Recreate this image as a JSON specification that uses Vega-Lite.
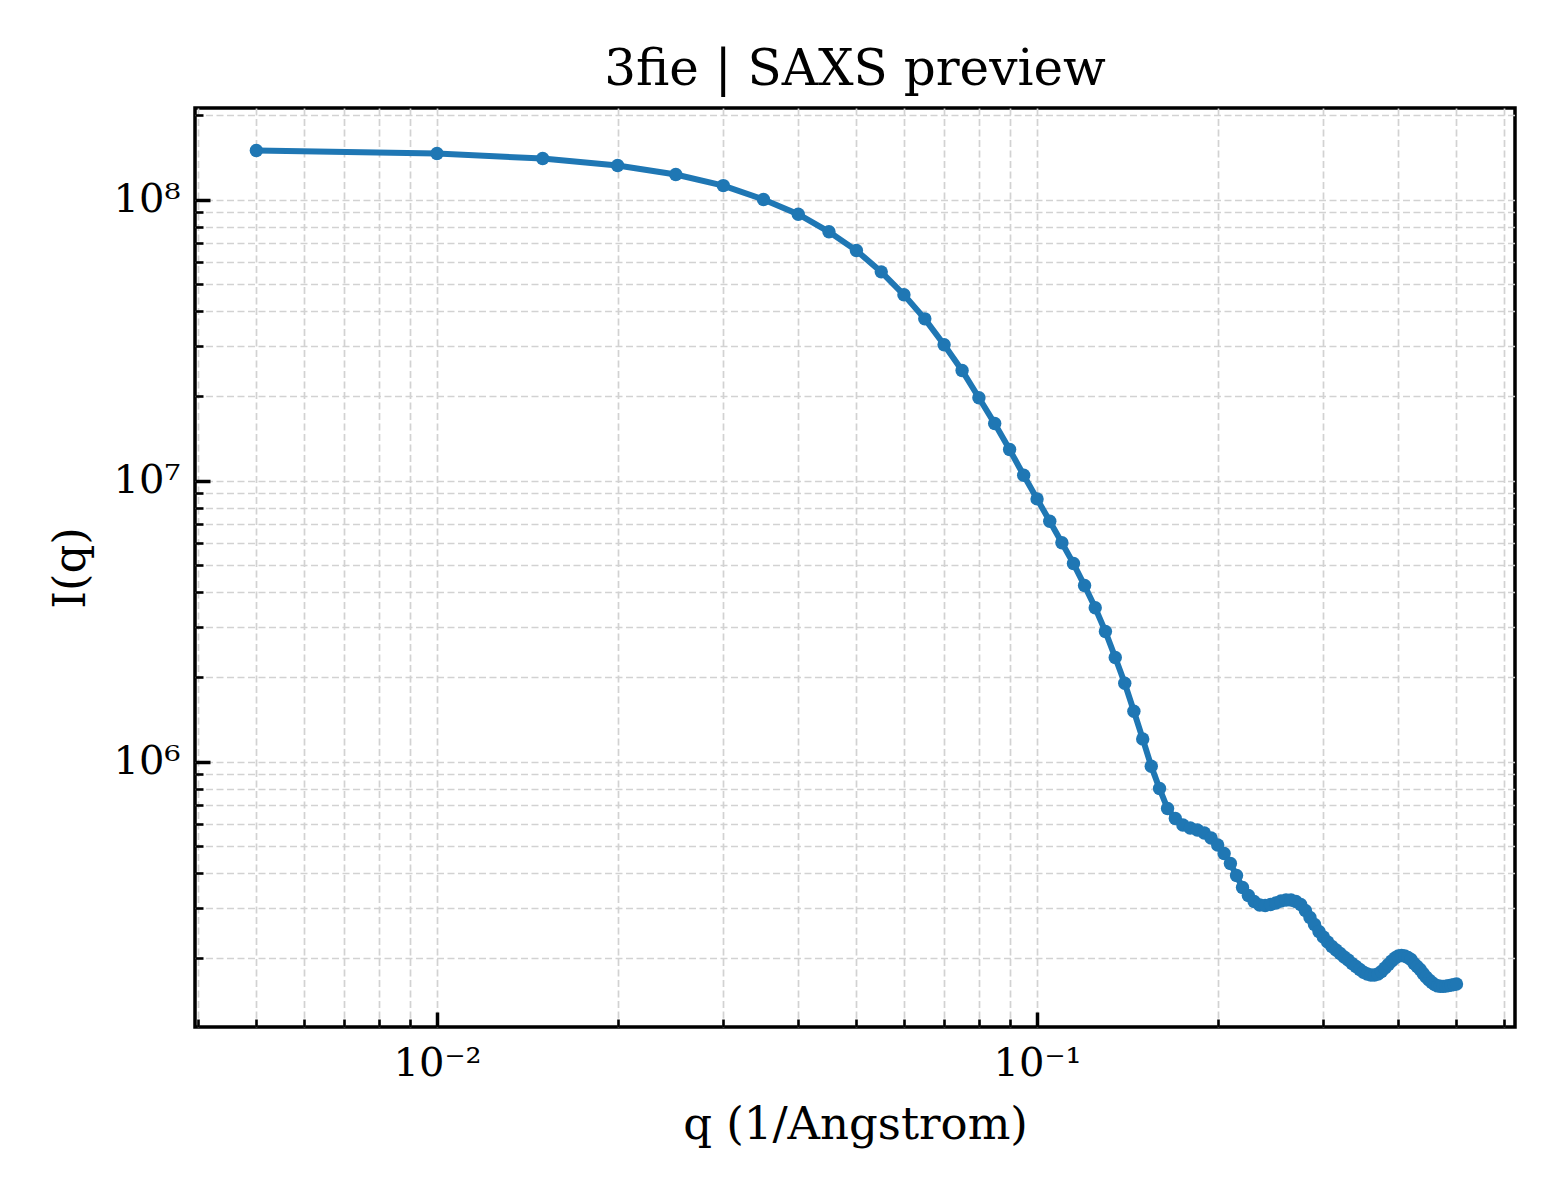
{
  "$schema": "https://vega.github.io/schema/vega-lite/v6.json",
  "autosize": {"type": "none"},
  "padding": {"left": 195, "top": 108, "right": 45, "bottom": 173},
  "width": 1320,
  "height": 919,
  "background": "white",
  "title": {
    "text": "3fie | SAXS preview",
    "font": "DejaVu Serif",
    "fontSize": 50,
    "fontWeight": "normal",
    "color": "black",
    "anchor": "middle",
    "frame": "group",
    "baseline": "alphabetic",
    "offset": 21,
    "dy": 61
  },
  "data": {
    "values": [
      {"q": 0.005, "I": 149400000},
      {"q": 0.010, "I": 145800000},
      {"q": 0.015, "I": 139900000},
      {"q": 0.020, "I": 132100000},
      {"q": 0.025, "I": 122800000},
      {"q": 0.030, "I": 112100000},
      {"q": 0.035, "I": 100000000},
      {"q": 0.040, "I": 88650000},
      {"q": 0.045, "I": 76750000},
      {"q": 0.050, "I": 65850000},
      {"q": 0.055, "I": 55280000},
      {"q": 0.060, "I": 45810000},
      {"q": 0.065, "I": 37620000},
      {"q": 0.070, "I": 30410000},
      {"q": 0.075, "I": 24640000},
      {"q": 0.080, "I": 19700000},
      {"q": 0.085, "I": 15950000},
      {"q": 0.090, "I": 12890000},
      {"q": 0.095, "I": 10440000},
      {"q": 0.100, "I": 8605000},
      {"q": 0.105, "I": 7166000},
      {"q": 0.110, "I": 6003000},
      {"q": 0.115, "I": 5066000},
      {"q": 0.120, "I": 4230000},
      {"q": 0.125, "I": 3524000},
      {"q": 0.130, "I": 2901000},
      {"q": 0.135, "I": 2345000},
      {"q": 0.140, "I": 1900000},
      {"q": 0.145, "I": 1510000},
      {"q": 0.150, "I": 1204000},
      {"q": 0.155, "I": 962400},
      {"q": 0.160, "I": 801500},
      {"q": 0.165, "I": 680200},
      {"q": 0.170, "I": 627000},
      {"q": 0.175, "I": 594300},
      {"q": 0.180, "I": 580000},
      {"q": 0.185, "I": 570500},
      {"q": 0.190, "I": 556700},
      {"q": 0.195, "I": 534400},
      {"q": 0.200, "I": 504500},
      {"q": 0.205, "I": 470500},
      {"q": 0.210, "I": 433500},
      {"q": 0.215, "I": 392900},
      {"q": 0.220, "I": 356100},
      {"q": 0.225, "I": 333600},
      {"q": 0.230, "I": 317600},
      {"q": 0.235, "I": 308600},
      {"q": 0.240, "I": 307300},
      {"q": 0.245, "I": 309800},
      {"q": 0.250, "I": 313600},
      {"q": 0.255, "I": 318800},
      {"q": 0.260, "I": 321400},
      {"q": 0.265, "I": 321400},
      {"q": 0.270, "I": 317600},
      {"q": 0.275, "I": 309800},
      {"q": 0.280, "I": 295000},
      {"q": 0.285, "I": 278500},
      {"q": 0.290, "I": 263000},
      {"q": 0.295, "I": 248300},
      {"q": 0.300, "I": 237400},
      {"q": 0.305, "I": 227900},
      {"q": 0.310, "I": 219600},
      {"q": 0.315, "I": 213400},
      {"q": 0.320, "I": 207400},
      {"q": 0.325, "I": 201500},
      {"q": 0.330, "I": 196600},
      {"q": 0.335, "I": 191000},
      {"q": 0.340, "I": 186400},
      {"q": 0.345, "I": 181900},
      {"q": 0.350, "I": 177900},
      {"q": 0.355, "I": 175300},
      {"q": 0.360, "I": 173900},
      {"q": 0.365, "I": 173900},
      {"q": 0.370, "I": 175300},
      {"q": 0.375, "I": 178900},
      {"q": 0.380, "I": 184100},
      {"q": 0.385, "I": 189500},
      {"q": 0.390, "I": 195000},
      {"q": 0.395, "I": 199900},
      {"q": 0.400, "I": 203200},
      {"q": 0.405, "I": 204000},
      {"q": 0.410, "I": 203200},
      {"q": 0.415, "I": 200700},
      {"q": 0.420, "I": 197500},
      {"q": 0.425, "I": 191000},
      {"q": 0.430, "I": 186400},
      {"q": 0.435, "I": 181900},
      {"q": 0.440, "I": 176000},
      {"q": 0.445, "I": 171000},
      {"q": 0.450, "I": 166900},
      {"q": 0.455, "I": 163500},
      {"q": 0.460, "I": 160800},
      {"q": 0.465, "I": 159100},
      {"q": 0.470, "I": 158600},
      {"q": 0.475, "I": 158500},
      {"q": 0.480, "I": 158800},
      {"q": 0.485, "I": 159500},
      {"q": 0.490, "I": 160100},
      {"q": 0.495, "I": 160800},
      {"q": 0.500, "I": 161500}
    ]
  },
  "mark": {
    "type": "line",
    "color": "#1f77b4",
    "strokeWidth": 6,
    "point": {"filled": true, "size": 180, "color": "#1f77b4"}
  },
  "encoding": {
    "x": {
      "field": "q",
      "type": "quantitative",
      "scale": {"type": "log", "domain": [0.003951, 0.6259], "nice": false},
      "axis": {
        "title": "q (1/Angstrom)",
        "values": [0.004, 0.005, 0.006, 0.007, 0.008, 0.009, 0.01, 0.02, 0.03, 0.04, 0.05, 0.06, 0.07, 0.08, 0.09, 0.1, 0.2, 0.3, 0.4, 0.5, 0.6],
        "labelExpr": "abs(log(datum.value)/LN10 - round(log(datum.value)/LN10)) < 0.001 ? (round(log(datum.value)/LN10) == -2 ? '10⁻²' : '10⁻¹') : ''",
        "tickSize": {"condition": {"test": "abs(log(datum.value)/LN10 - round(log(datum.value)/LN10)) < 0.001", "value": -15}, "value": -8},
        "tickWidth": {"condition": {"test": "abs(log(datum.value)/LN10 - round(log(datum.value)/LN10)) < 0.001", "value": 3.5}, "value": 2.6},
        "labelPadding": 31,
        "titlePadding": 12
      }
    },
    "y": {
      "field": "I",
      "type": "quantitative",
      "scale": {"type": "log", "domain": [113600, 211700000], "nice": false},
      "axis": {
        "title": "I(q)",
        "values": [200000, 300000, 400000, 500000, 600000, 700000, 800000, 900000, 1000000, 2000000, 3000000, 4000000, 5000000, 6000000, 7000000, 8000000, 9000000, 10000000, 20000000, 30000000, 40000000, 50000000, 60000000, 70000000, 80000000, 90000000, 100000000, 200000000],
        "labelExpr": "abs(log(datum.value)/LN10 - round(log(datum.value)/LN10)) < 0.001 ? (round(log(datum.value)/LN10) == 6 ? '10⁶' : round(log(datum.value)/LN10) == 7 ? '10⁷' : '10⁸') : ''",
        "tickSize": {"condition": {"test": "abs(log(datum.value)/LN10 - round(log(datum.value)/LN10)) < 0.001", "value": -15}, "value": -8},
        "tickWidth": {"condition": {"test": "abs(log(datum.value)/LN10 - round(log(datum.value)/LN10)) < 0.001", "value": 3.5}, "value": 2.6},
        "labelPadding": 30,
        "titlePadding": 20
      }
    }
  },
  "config": {
    "view": {"stroke": "black", "strokeWidth": 3.5},
    "axis": {
      "domain": false,
      "grid": true,
      "gridColor": "#d2d2d2",
      "gridDash": [7, 3.5],
      "gridWidth": 1.7,
      "tickColor": "black",
      "labelFont": "DejaVu Serif",
      "labelFontSize": 40,
      "labelColor": "black",
      "labelOverlap": false,
      "labelFlush": false,
      "titleFont": "DejaVu Serif",
      "titleFontSize": 45,
      "titleFontWeight": "normal",
      "titleColor": "black"
    }
  }
}
